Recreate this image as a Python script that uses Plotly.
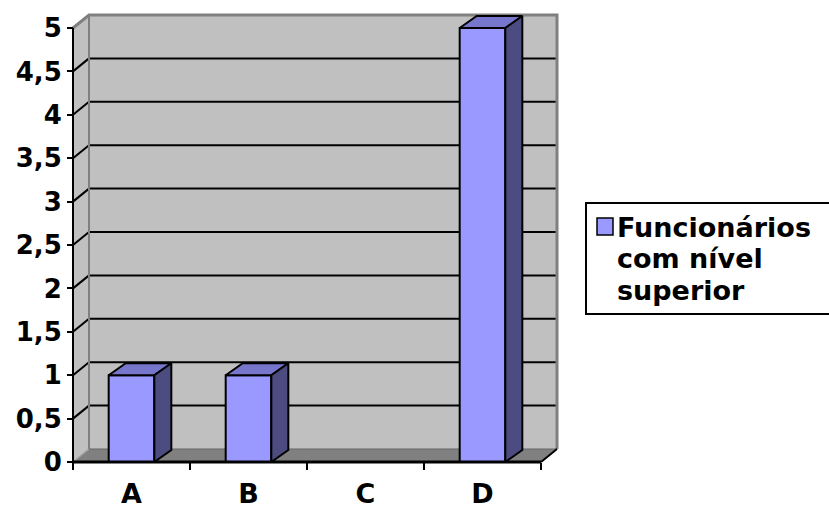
import plotly.graph_objects as go

# ---- data ----
categories = ["A", "B", "C", "D"]
values = [1, 1, 0, 5]
series_name = ["Funcionários", "com nível", "superior"]
y_tick_values = [0, 0.5, 1, 1.5, 2, 2.5, 3, 3.5, 4, 4.5, 5]
y_tick_labels = ["0", "0,5", "1", "1,5", "2", "2,5", "3", "3,5", "4", "4,5", "5"]

# ---- layout geometry (pixels) ----
W, H = 829, 510
L, R, T, B = 40, 600, 5, 485           # plot area box
X0, Y0 = 73, 462                        # pixel of the front corner (x=-0.5, y=0)
PX_X, PX_Y = 117.0, 86.8                # pixels per data unit
FONT = "DejaVu Sans"

x_range = [-0.5 - (X0 - L) / PX_X, -0.5 + (R - X0) / PX_X]
y_range = [-(B - Y0) / PX_Y, (Y0 - T) / PX_Y]

# oblique depth of the 3-D box and of the columns, expressed in data units
WALL_DX, WALL_DY = 16 / PX_X, 13 / PX_Y
BAR_DX, BAR_DY = 17 / PX_X, 12 / PX_Y
BAR_W = 0.39

n = len(categories)
x_lo, x_hi = -0.5, n - 0.5
y_top = y_tick_values[-1]

WALL = "#C0C0C0"
FLOOR = "#808080"
EDGE = "#808080"
FRONT = "#9999FF"
TOP = "#7676CC"
SIDE = "#4C4C80"


def poly(pts):
    return "M " + " L ".join(f"{x},{y}" for x, y in pts) + " Z"


shapes = []
# back wall
shapes.append(dict(type="path", xref="x", yref="y", layer="below",
                   path=poly([(x_lo + WALL_DX, WALL_DY), (x_hi + WALL_DX, WALL_DY),
                              (x_hi + WALL_DX, y_top + WALL_DY), (x_lo + WALL_DX, y_top + WALL_DY)]),
                   fillcolor=WALL, line=dict(width=0)))
# left side wall
shapes.append(dict(type="path", xref="x", yref="y", layer="below",
                   path=poly([(x_lo, 0), (x_lo + WALL_DX, WALL_DY),
                              (x_lo + WALL_DX, y_top + WALL_DY), (x_lo, y_top)]),
                   fillcolor=WALL, line=dict(width=0)))
# floor
shapes.append(dict(type="path", xref="x", yref="y", layer="below",
                   path=poly([(x_lo, 0), (x_lo + WALL_DX, WALL_DY),
                              (x_hi + WALL_DX, WALL_DY), (x_hi, 0)]),
                   fillcolor=FLOOR, line=dict(width=0)))

# gridlines on the back wall and the matching diagonals on the side wall
for v in y_tick_values[1:-1]:
    shapes.append(dict(type="line", xref="x", yref="y", layer="below",
                       x0=x_lo + WALL_DX, x1=x_hi + WALL_DX, y0=v + WALL_DY, y1=v + WALL_DY,
                       line=dict(color="black", width=2)))
    shapes.append(dict(type="line", xref="x", yref="y", layer="below",
                       x0=x_lo, x1=x_lo + WALL_DX, y0=v, y1=v + WALL_DY,
                       line=dict(color="black", width=2)))

# grey outline of the box (top edges, back corner, right edge)
shapes.append(dict(type="path", xref="x", yref="y", layer="below",
                   path=f"M {x_lo},{y_top} L {x_lo + WALL_DX},{y_top + WALL_DY} "
                        f"L {x_hi + WALL_DX},{y_top + WALL_DY} L {x_hi + WALL_DX},{WALL_DY}",
                   line=dict(color=EDGE, width=3)))
shapes.append(dict(type="line", xref="x", yref="y", layer="below",
                   x0=x_lo + WALL_DX, x1=x_lo + WALL_DX, y0=WALL_DY, y1=y_top + WALL_DY,
                   line=dict(color=EDGE, width=2)))
shapes.append(dict(type="line", xref="x", yref="y", layer="below",
                   x0=x_lo, x1=x_lo + WALL_DX, y0=0, y1=WALL_DY,
                   line=dict(color="#A0A0A0", width=1.5)))
shapes.append(dict(type="line", xref="x", yref="y", layer="below",
                   x0=x_lo + WALL_DX, x1=x_hi + WALL_DX, y0=WALL_DY, y1=WALL_DY,
                   line=dict(color="#666666", width=1)))
# floor right edge
shapes.append(dict(type="line", xref="x", yref="y",
                   x0=x_hi, x1=x_hi + WALL_DX, y0=0, y1=WALL_DY,
                   line=dict(color="black", width=2)))

# front axis lines
shapes.append(dict(type="line", xref="x", yref="y",
                   x0=x_lo, x1=x_lo, y0=0, y1=y_top,
                   line=dict(color="black", width=2)))
shapes.append(dict(type="line", xref="x", yref="y",
                   x0=x_lo, x1=x_hi, y0=0, y1=0,
                   line=dict(color="black", width=3)))


# ---- legend (drawn by hand, pixel -> paper) ----
def pxp(X):
    return (X - L) / (R - L)


def pyp(Y):
    return (B - Y) / (B - T)


shapes.append(dict(type="rect", xref="paper", yref="paper",
                   x0=pxp(586), x1=pxp(850), y0=pyp(314), y1=pyp(203),
                   fillcolor="white", line=dict(color="black", width=2)))
shapes.append(dict(type="rect", xref="paper", yref="paper",
                   x0=pxp(597), x1=pxp(613), y0=pyp(235), y1=pyp(218),
                   fillcolor=FRONT, line=dict(color="black", width=1.5)))

annotations = []
for txt, yc in zip(series_name, [227, 258.5, 290]):
    annotations.append(dict(xref="paper", yref="paper", x=pxp(615), y=pyp(yc),
                            xanchor="left", yanchor="middle", showarrow=False,
                            text=txt, font=dict(family=FONT, size=27, color="black", weight="bold")))

# ---- traces ----
xs = list(range(n))
fig = go.Figure()
fig.add_trace(go.Bar(x=xs, y=values, width=BAR_W, name=" ".join(series_name),
                     marker=dict(color=FRONT, line=dict(color="black", width=2)),
                     showlegend=False, hoverinfo="skip"))

top_x, top_y, side_x, side_y = [], [], [], []
for xc, v in zip(xs, values):
    if v <= 0:
        continue
    xl, xr = xc - BAR_W / 2, xc + BAR_W / 2
    top_x += [xl, xl + BAR_DX, xr + BAR_DX, xr, xl, None]
    top_y += [v, v + BAR_DY, v + BAR_DY, v, v, None]
    side_x += [xr, xr + BAR_DX, xr + BAR_DX, xr, xr, None]
    side_y += [0, BAR_DY, v + BAR_DY, v, 0, None]

fig.add_trace(go.Scatter(x=top_x, y=top_y, mode="lines", fill="toself", fillcolor=TOP,
                         line=dict(color="black", width=2), showlegend=False, hoverinfo="skip"))
fig.add_trace(go.Scatter(x=side_x, y=side_y, mode="lines", fill="toself", fillcolor=SIDE,
                         line=dict(color="black", width=2), showlegend=False, hoverinfo="skip"))

fig.update_layout(
    width=W, height=H, autosize=False,
    margin=dict(l=L, r=W - R, t=T, b=H - B, pad=0, autoexpand=False),
    paper_bgcolor="white", plot_bgcolor="white",
    showlegend=False,
    shapes=shapes, annotations=annotations,
    xaxis=dict(range=x_range, showgrid=False, zeroline=False, showline=False,
               automargin=False,
               tickmode="array", tickvals=xs, ticktext=categories, ticks="",
               anchor="free", position=(B - Y0) / (B - T),
               ticklabelstandoff=13,
               tickfont=dict(family=FONT, size=27, color="black", weight="bold"),
               minor=dict(tickmode="array", tickvals=[i - 0.5 for i in range(n + 1)],
                          ticks="outside", ticklen=7, tickwidth=2, tickcolor="black")),
    yaxis=dict(range=y_range, showgrid=False, zeroline=False, showline=False,
               automargin=False,
               tickmode="array", tickvals=y_tick_values, ticktext=y_tick_labels,
               ticks="outside", ticklen=6, tickwidth=2, tickcolor="black",
               anchor="free", position=(X0 - L) / (R - L),
               tickfont=dict(family=FONT, size=26, color="black", weight="bold")),
)

fig.write_html("out.html")
